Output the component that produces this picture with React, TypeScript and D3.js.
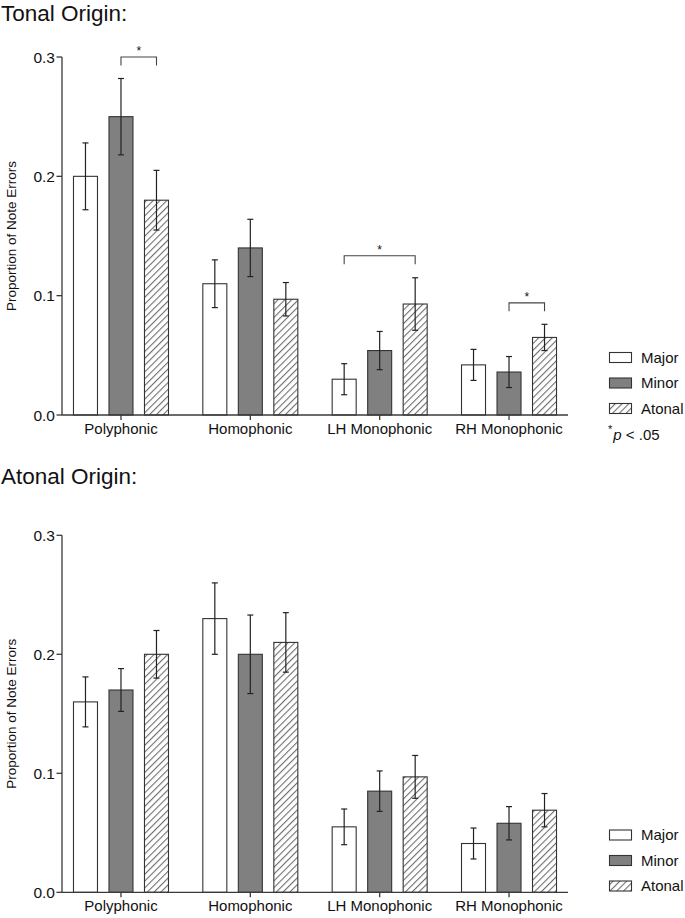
import React from 'react';
import { scaleLinear, scalePoint, scaleBand } from 'd3';

const categories = ['Polyphonic', 'Homophonic', 'LH Monophonic', 'RH Monophonic'];
const seriesNames = ['Major', 'Minor', 'Atonal'];
const yTicks = [0, 0.1, 0.2, 0.3];

// Tonal origin
const tonalMajor = [0.2, 0.11, 0.03, 0.042];
const tonalMajorErr = [0.028, 0.02, 0.013, 0.013];
const tonalMinor = [0.25, 0.14, 0.054, 0.036];
const tonalMinorErr = [0.032, 0.024, 0.016, 0.013];
const tonalAtonal = [0.18, 0.097, 0.093, 0.065];
const tonalAtonalErr = [0.025, 0.014, 0.022, 0.011];

// Atonal origin
const atonalMajor = [0.16, 0.23, 0.055, 0.041];
const atonalMajorErr = [0.021, 0.03, 0.015, 0.013];
const atonalMinor = [0.17, 0.2, 0.085, 0.058];
const atonalMinorErr = [0.018, 0.033, 0.017, 0.014];
const atonalAtonal = [0.2, 0.21, 0.097, 0.069];
const atonalAtonalErr = [0.02, 0.025, 0.018, 0.014];

// significance brackets (tonal origin only)
const tonalSig = [
  { cat: 'Polyphonic', from: 'Minor', to: 'Atonal', level: 0.3 },
  { cat: 'LH Monophonic', from: 'Major', to: 'Atonal', level: 0.1335 },
  { cat: 'RH Monophonic', from: 'Minor', to: 'Atonal', level: 0.094 },
];

const FONT = '"Liberation Sans", Arial, Helvetica, sans-serif';
const AXIS = '#3a3a3a';

const x0 = scalePoint<string>().domain(categories).range([62, 568]).padding(0.456);
const x1 = scaleBand<string>().domain(seriesNames).range([-47.5, 47.5]).paddingInner(0.324).paddingOuter(0);

function fillFor(s: string) {
  if (s === 'Major') return '#ffffff';
  if (s === 'Minor') return '#808080';
  return 'url(#hatch)';
}

function Panel({ title, titleY, top, bottom, values, errors, sig, legendY, showP }: any) {
  const y = scaleLinear().domain([0, 0.3]).range([bottom, top]);
  const xAxisY = y(0);
  return (
    <g>
      <text x={1} y={titleY} fontSize={22.5} fontFamily={FONT} fill="#111">{title}</text>
      {/* y axis */}
      <line x1={62} x2={62} y1={y(0.3)} y2={y(0)} stroke={AXIS} strokeWidth={1.3} />
      {yTicks.map((t) => (
        <g key={t}>
          <line x1={56.5} x2={62} y1={y(t)} y2={y(t)} stroke={AXIS} strokeWidth={1.3} />
          <text x={55} y={y(t)} dy="0.36em" textAnchor="end" fontSize={15.5} fontFamily={FONT} fill="#111">
            {t.toFixed(1)}
          </text>
        </g>
      ))}
      <text
        transform={`translate(16,${(y(0) + y(0.3)) / 2}) rotate(-90)`}
        textAnchor="middle"
        fontSize={13.5}
        fontFamily={FONT}
        fill="#111"
      >
        Proportion of Note Errors
      </text>
      {/* bars */}
      {categories.map((c, ci) => (
        <g key={c}>
          {seriesNames.map((s, si) => {
            const v = values[si][ci];
            const e = errors[si][ci];
            const bx = (x0(c) as number) + (x1(s) as number);
            const cx = bx + x1.bandwidth() / 2;
            return (
              <g key={s}>
                <rect x={bx} y={y(v)} width={x1.bandwidth()} height={y(0) - y(v)} fill={fillFor(s)} stroke="#333" strokeWidth={1.1} />
                <line x1={cx} x2={cx} y1={y(v + e)} y2={y(v - e)} stroke="#222" strokeWidth={1.2} />
                <line x1={cx - 3} x2={cx + 3} y1={y(v + e)} y2={y(v + e)} stroke="#222" strokeWidth={1.2} />
                <line x1={cx - 3} x2={cx + 3} y1={y(v - e)} y2={y(v - e)} stroke="#222" strokeWidth={1.2} />
              </g>
            );
          })}
        </g>
      ))}
      {/* x axis */}
      <line x1={62} x2={568} y1={xAxisY} y2={xAxisY} stroke={AXIS} strokeWidth={1.3} />
      {categories.map((c) => (
        <g key={c}>
          <line x1={x0(c)} x2={x0(c)} y1={xAxisY} y2={xAxisY + 5} stroke={AXIS} strokeWidth={1.3} />
          <text x={x0(c)} y={xAxisY + 19} textAnchor="middle" fontSize={15} fontFamily={FONT} fill="#111">{c}</text>
        </g>
      ))}
      {/* significance */}
      {sig.map((d: any, i: number) => {
        const xa = (x0(d.cat) as number) + (x1(d.from) as number) + x1.bandwidth() / 2;
        const xb = (x0(d.cat) as number) + (x1(d.to) as number) + x1.bandwidth() / 2;
        const yy = y(d.level);
        return (
          <g key={i}>
            <path d={`M${xa},${yy + 8.5}V${yy}H${xb}V${yy + 8.5}`} fill="none" stroke="#444" strokeWidth={1.1} />
            <text x={(xa + xb) / 2} y={yy - 2} textAnchor="middle" fontSize={12} fontFamily={FONT} fill="#111">*</text>
          </g>
        );
      })}
      {/* legend */}
      {seriesNames.map((s, i) => {
        const ly = legendY + i * 25.5;
        return (
          <g key={s}>
            <rect x={609.5} y={ly - 5} width={22} height={10} fill={fillFor(s)} stroke="#333" strokeWidth={1.1} />
            <text x={641} y={ly} dy="0.36em" fontSize={15} fontFamily={FONT} fill="#111">{s}</text>
          </g>
        );
      })}
      {showP && (
        <text x={608} y={legendY + 3 * 25.5} dy="0.36em" fontSize={15} fontFamily={FONT} fill="#111">
          <tspan fontSize={11} dy="-0.1em">*</tspan>
          <tspan fontStyle="italic" dy="0.46em" dx="1">p</tspan>
          <tspan> &lt; .05</tspan>
        </text>
      )}
    </g>
  );
}

export default function App() {
  return (
    <div style={{ position: 'absolute', left: 0, top: 0 }}>
      <svg width={685} height={918} style={{ display: 'block', background: '#fff' }}>
        <defs>
          <pattern id="hatch" width={4.8} height={4.8} patternUnits="userSpaceOnUse" patternTransform="rotate(45)">
            <rect width={4.8} height={4.8} fill="#fff" />
            <line x1={0} y1={0} x2={0} y2={4.8} stroke="#6e6e6e" strokeWidth={2.2} />
          </pattern>
        </defs>
        <Panel
          title="Tonal Origin:"
          titleY={20.5}
          top={57}
          bottom={415}
          values={[tonalMajor, tonalMinor, tonalAtonal]}
          errors={[tonalMajorErr, tonalMinorErr, tonalAtonalErr]}
          sig={tonalSig}
          legendY={357.5}
          showP={true}
        />
        <Panel
          title="Atonal Origin:"
          titleY={484}
          top={535.3}
          bottom={892.3}
          values={[atonalMajor, atonalMinor, atonalAtonal]}
          errors={[atonalMajorErr, atonalMinorErr, atonalAtonalErr]}
          sig={[]}
          legendY={835}
          showP={false}
        />
      </svg>
    </div>
  );
}
